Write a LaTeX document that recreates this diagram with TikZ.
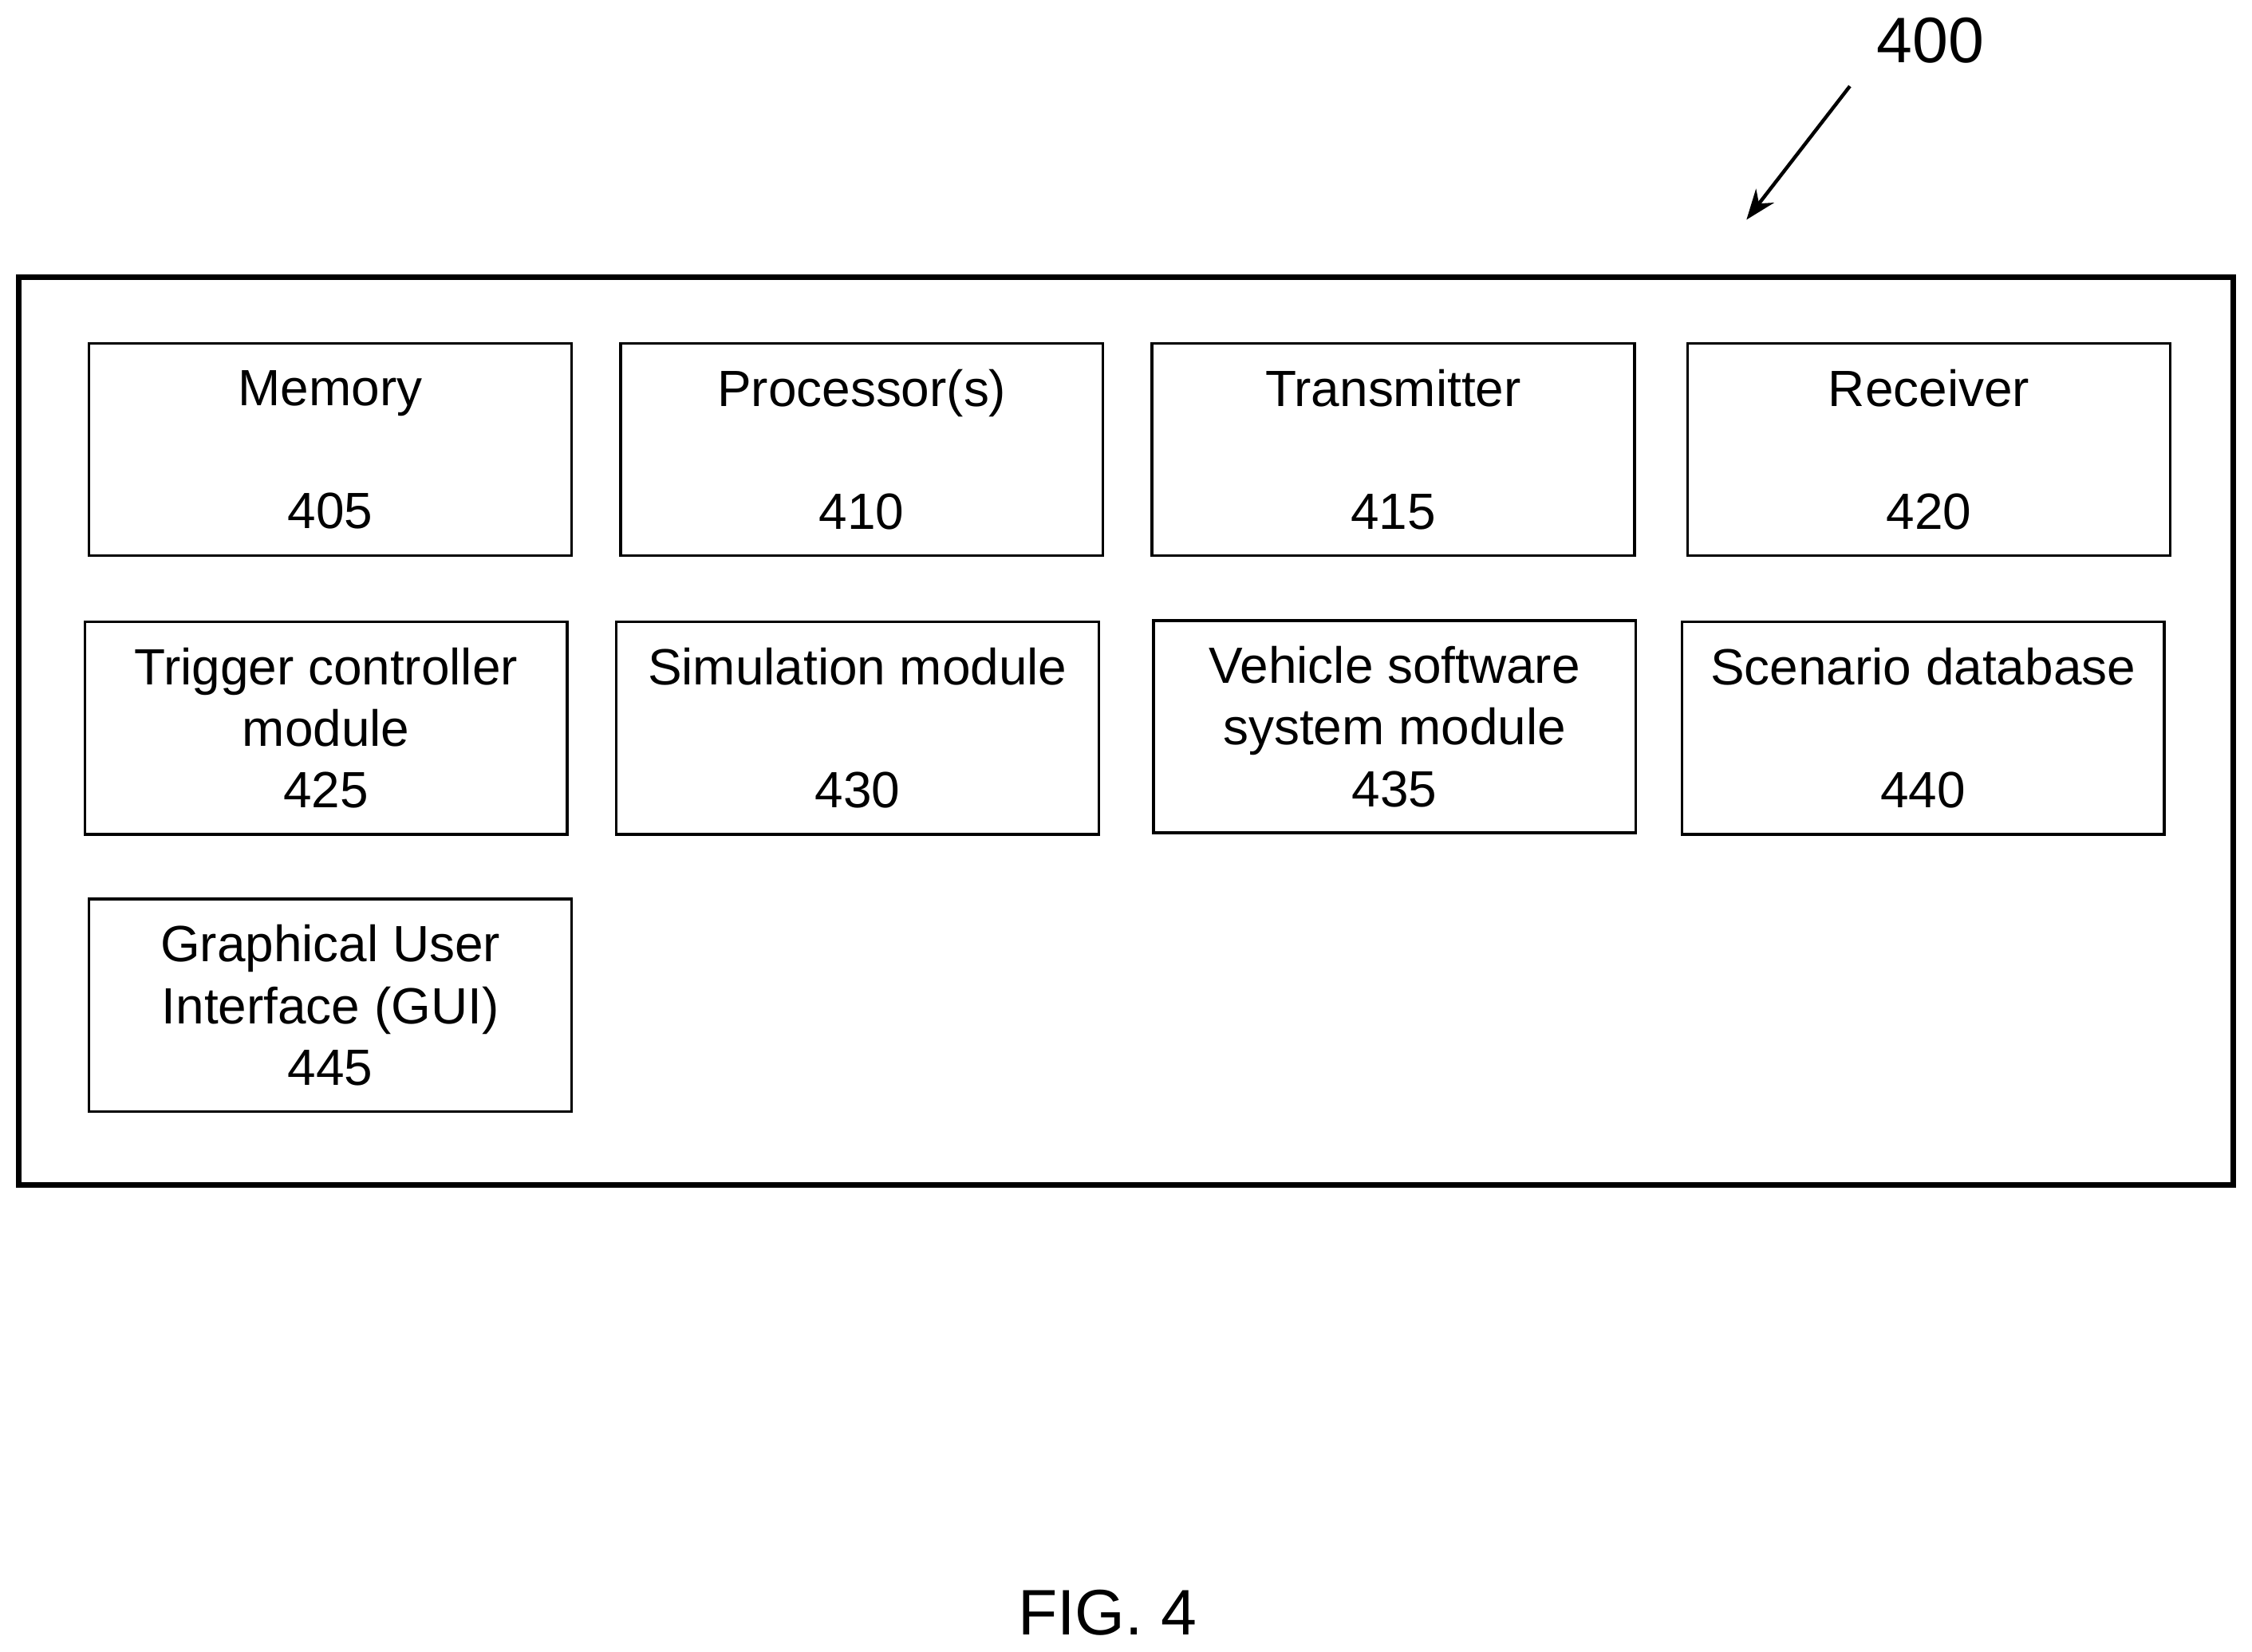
\documentclass[tikz,border=0pt]{standalone}
\usepackage{fontspec}
\setmainfont{Liberation Sans}
\usetikzlibrary{arrows.meta}
\begin{document}
\begin{tikzpicture}[x=0.02cm, y=0.02cm, >={Stealth[length=12pt,width=9pt]},
	box/.style={draw, line width=1.1pt, minimum width=6.72cm, minimum height=2.96cm, align=center, inner sep=0pt, font=\fontsize{20.2}{24.4}\selectfont}]
	
	% Page frame
	\useasboundingbox (0,0) rectangle (1568,-1150);
	
	% Outer system box
	\draw[line width=2.2pt] (13,-193) rectangle (1555,-825);
	
	% First row
	\node[box] (mem)  at (230,-313)  {Memory\\[24.4pt]405};
	\node[box] (proc) at (600,-313)  {Processor(s)\\[24.4pt]410};
	\node[box] (tx)   at (970,-313)  {Transmitter\\[24.4pt]415};
	\node[box] (rx)   at (1343,-313) {Receiver\\[24.4pt]420};
	
	% Second row
	\node[box] (trig) at (227,-507)  {Trigger controller\\module\\425};
	\node[box] (sim)  at (597,-507)  {Simulation module\\[24.4pt]430};
	\node[box] (vss)  at (971,-506)  {Vehicle software\\system module\\435};
	\node[box] (scen) at (1339,-507) {Scenario database\\[24.4pt]440};
	
	% Third row
	\node[box] (gui)  at (230,-700)  {Graphical User\\Interface (GUI)\\445};
	
	% Reference numeral and figure label
	\node[font=\fontsize{25.5}{30}\selectfont] (ref) at (1344,-28) {400};
	\coordinate (tail) at (1288,-60);
	\coordinate (tip) at (1216,-153);
	\draw[->, line width=1.4pt] (tail) -- (tip);
	\node[font=\fontsize{25.5}{30}\selectfont] (fig) at (771,-1123) {FIG. 4};
	
\end{tikzpicture}
\end{document}
